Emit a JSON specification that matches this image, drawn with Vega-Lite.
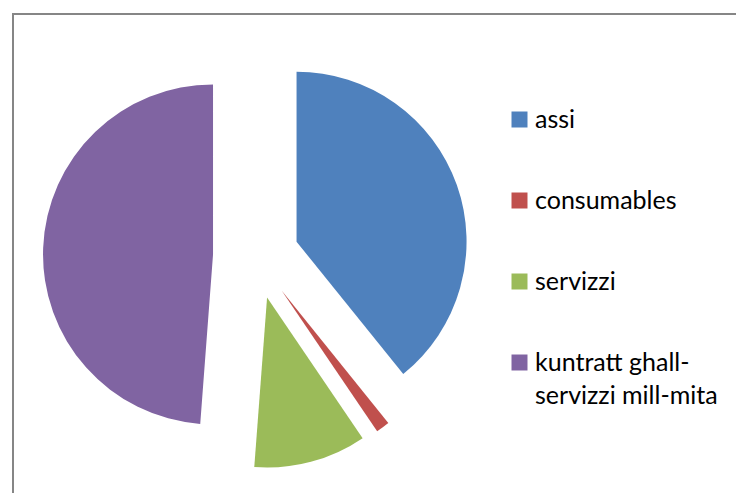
{
  "$schema": "https://vega.github.io/schema/vega-lite/v6.json",
  "autosize": {"type": "none"},
  "padding": {"left": 13, "top": 14, "right": 0, "bottom": 0},
  "width": 740,
  "height": 490,
  "background": "white",
  "view": {"stroke": "#868686", "strokeWidth": 2, "fill": "white"},
  "config": {"style": {"guide-label": {"lineHeight": 33}}},
  "data": {
    "values": [
      {"category": "assi", "order": 1, "value": 39.2},
      {"category": "consumables", "order": 2, "value": 1.3},
      {"category": "servizzi", "order": 3, "value": 10.7},
      {"category": "kuntratt ghall-servizzi mill-mita", "order": 4, "value": 48.8}
    ]
  },
  "transform": [
    {"stack": "value", "groupby": [], "sort": [{"field": "order"}], "as": ["start", "end"]}
  ],
  "mark": {
    "type": "arc",
    "x": 243,
    "y": 242,
    "outerRadius": 170,
    "xOffset": {"expr": "43*sin(PI*(datum.start+datum.end)/100)"},
    "yOffset": {"expr": "-43*cos(PI*(datum.start+datum.end)/100)"}
  },
  "encoding": {
    "theta": {"field": "start", "type": "quantitative", "scale": {"domain": [0, 100]}},
    "theta2": {"field": "end"},
    "color": {
      "field": "category",
      "type": "nominal",
      "scale": {
        "domain": ["assi", "consumables", "servizzi", "kuntratt ghall-servizzi mill-mita"],
        "range": ["#4F81BD", "#C0504D", "#9BBB59", "#8064A2"]
      },
      "legend": {
        "orient": "none",
        "legendX": 494,
        "legendY": 93,
        "title": null,
        "symbolType": "square",
        "symbolSize": 256,
        "symbolStrokeWidth": 0,
        "symbolOpacity": 1,
        "labelFont": "Lato",
        "labelFontSize": 25,
        "labelColor": "black",
        "labelOffset": 3,
        "labelLimit": 300,
        "rowPadding": 55,
        "labelExpr": "datum.label == 'kuntratt ghall-servizzi mill-mita' ? ['kuntratt ghall-', 'servizzi mill-mita'] : datum.label"
      }
    }
  }
}
